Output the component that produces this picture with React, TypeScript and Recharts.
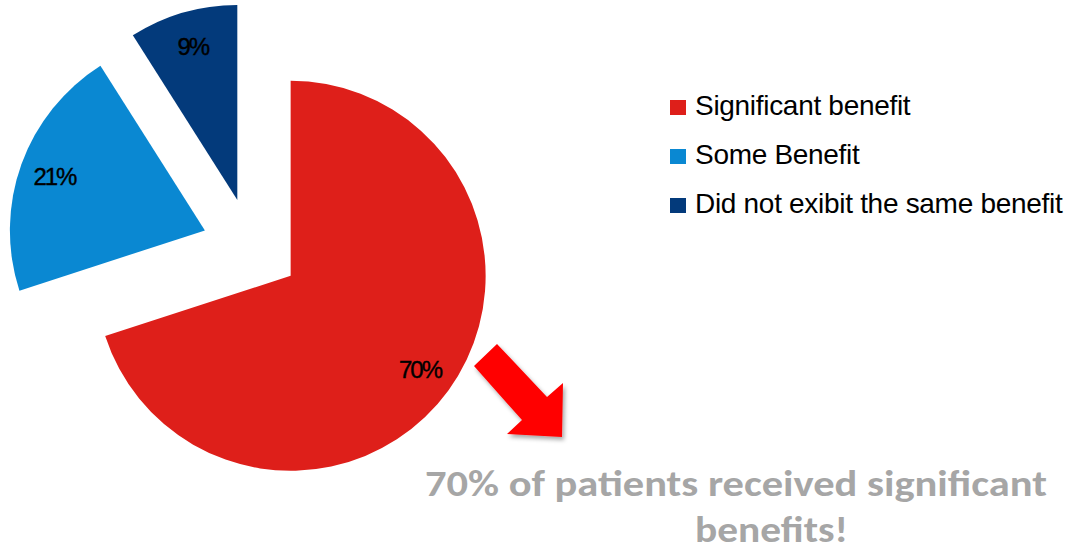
import React from 'react';
import { PieChart, Pie, Cell, Legend, Sector, Customized } from 'recharts';

const categories = ['Significant benefit', 'Some Benefit', 'Did not exibit the same benefit'];
const values = [70, 21, 9];
const colors = ['#de1f1a', '#0a88d2', '#033a7b'];
const captionLines = ['70% of patients received significant', 'benefits!'];

const data = categories.map((name, i) => ({ name, value: values[i] }));

const RADIAN = Math.PI / 180;
const EXPLODE = 49;
const LABEL_R = 0.82;

const ExplodedSector = (props: any) => {
  const { cx, cy, midAngle, outerRadius, startAngle, endAngle, fill } = props;
  const dx = EXPLODE * Math.cos(-midAngle * RADIAN);
  const dy = EXPLODE * Math.sin(-midAngle * RADIAN);
  return (
    <Sector
      cx={cx + dx}
      cy={cy + dy}
      innerRadius={0}
      outerRadius={outerRadius}
      startAngle={startAngle}
      endAngle={endAngle}
      fill={fill}
      stroke="none"
    />
  );
};

const renderLabel = (props: any) => {
  const { cx, cy, midAngle, outerRadius, value } = props;
  const r = EXPLODE + outerRadius * LABEL_R;
  const x = cx + r * Math.cos(-midAngle * RADIAN);
  const y = cy + r * Math.sin(-midAngle * RADIAN);
  return (
    <text
      x={x}
      y={y}
      textAnchor="middle"
      dominantBaseline="central"
      fill="#000"
      stroke="#000"
      strokeWidth={0.4}
      fontFamily="'Liberation Sans', Arial, sans-serif"
      fontSize={24}
      letterSpacing={-2}
    >
      {`${value}%`}
    </text>
  );
};

const LegendContent = (props: any) => {
  const payload = [...(props.payload || [])].sort(
    (a: any, b: any) => categories.indexOf(a.value) - categories.indexOf(b.value)
  );
  return (
    <div>
      {payload.map((entry: any) => {
        const idx = categories.indexOf(entry.value);
        return (
          <div key={entry.value} style={{ display: 'flex', alignItems: 'center', height: 49 }}>
            <span
              style={{
                display: 'inline-block',
                width: 16,
                height: 15,
                background: colors[idx],
                marginRight: 9,
                flex: 'none',
              }}
            />
            <span
              style={{
                fontFamily: "'Liberation Sans', Arial, sans-serif",
                fontSize: 28,
                letterSpacing: -0.3,
                color: '#000',
                whiteSpace: 'nowrap',
                position: 'relative',
                top: -2,
              }}
            >
              {entry.value}
            </span>
          </div>
        );
      })}
    </div>
  );
};

const Annotation = () => (
  <g>
    <defs>
      <filter id="arrowShadow" x="-20%" y="-20%" width="150%" height="150%">
        <feDropShadow dx="2" dy="3" stdDeviation="2" floodColor="#000" floodOpacity="0.35" />
      </filter>
    </defs>
    <polygon
      points="474,366 497,344 547,397 563,383 562,437 507,434 522,420"
      fill="#ff0000"
      filter="url(#arrowShadow)"
    />
    <text
      x={425}
      y={496}
      fill="#a6a6a6"
      fontFamily="Carlito, Calibri, Lato, sans-serif"
      fontWeight="bold"
      fontSize={37}
      textLength={622}
      lengthAdjust="spacingAndGlyphs"
    >
      {captionLines[0]}
    </text>
    <text
      x={695}
      y={542}
      fill="#a6a6a6"
      fontFamily="Carlito, Calibri, Lato, sans-serif"
      fontWeight="bold"
      fontSize={37}
      textLength={153}
      lengthAdjust="spacingAndGlyphs"
    >
      {captionLines[1]}
    </text>
  </g>
);

export default function App() {
  return (
    <div style={{ position: 'absolute', left: 0, top: 0, width: 1071, height: 555, background: '#fff' }}>
      <PieChart width={1071} height={555} margin={{ top: 0, right: 0, bottom: 0, left: 0 }}>
        <Pie
          data={data}
          dataKey="value"
          nameKey="name"
          cx={251}
          cy={247}
          outerRadius={195}
          startAngle={90}
          endAngle={-270}
          stroke="none"
          isAnimationActive={false}
          shape={ExplodedSector}
          label={renderLabel}
          labelLine={false}
        >
          {data.map((d, i) => (
            <Cell key={d.name} fill={colors[i]} />
          ))}
        </Pie>
        <Legend
          layout="vertical"
          align="right"
          verticalAlign="top"
          itemSorter={null as any}
          wrapperStyle={{ left: 670, top: 83, width: 400 }}
          content={LegendContent}
        />
        <Customized component={Annotation} />
      </PieChart>
    </div>
  );
}
